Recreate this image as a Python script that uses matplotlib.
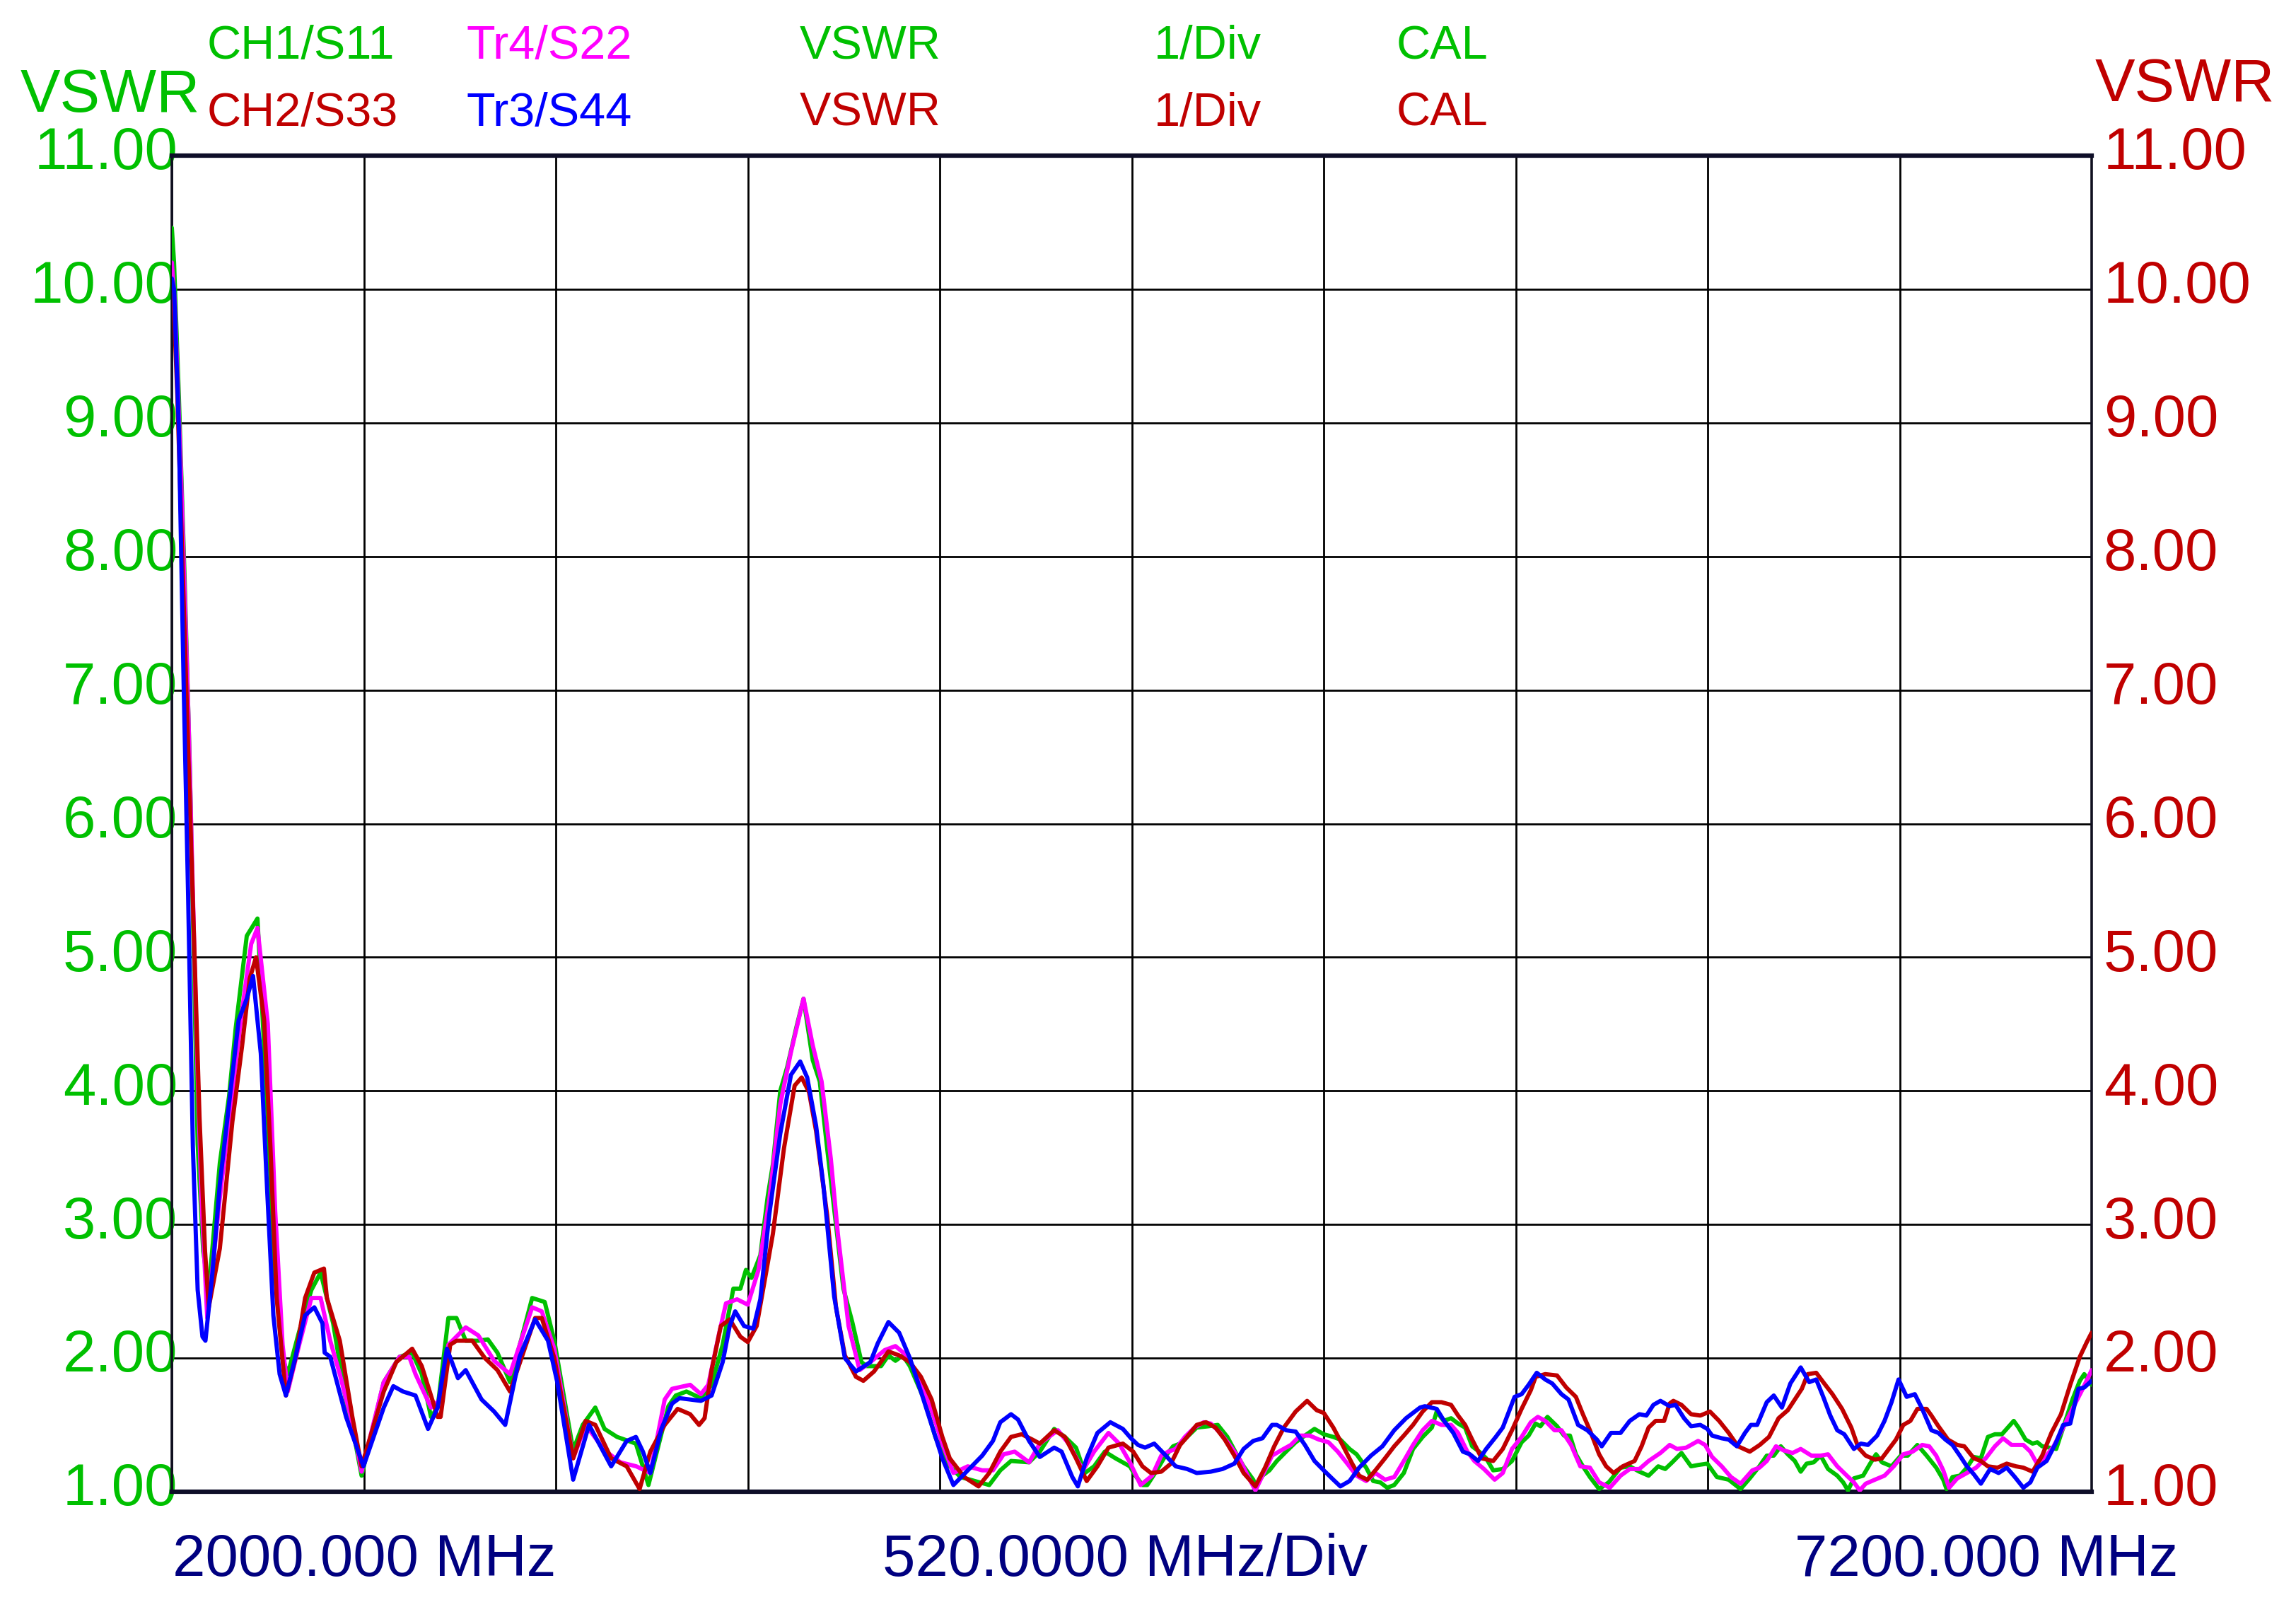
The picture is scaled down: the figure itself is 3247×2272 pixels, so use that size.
import numpy as np
import matplotlib
matplotlib.use("Agg")
import matplotlib.pyplot as plt
import matplotlib.transforms as mtransforms

plt.rcParams['font.family'] = ['Liberation Sans', 'DejaVu Sans']

# sweep settings of the analyser
f_start = 2000.0   # MHz
f_stop = 7200.0    # MHz
f_div = 520.0      # MHz/Div
vswr_ticks = [1, 2, 3, 4, 5, 6, 7, 8, 9, 10, 11]

# traces, (MHz, VSWR)
s11 = [(2000,10.46),(2006,10.2),(2019,9.2),(2035,7.8),(2049,6.4),(2070,3.6),(2085,2.8),(2100,2.51),(2130,3.46),(2155,3.96),(2173,4.47),(2203,5.16),(2232,5.29),(2258,3.9),(2279,2.64),(2300,2.0),(2314,1.88),(2345,2.2),(2378,2.51),(2403,2.64),(2437,2.26),(2471,1.69),(2497,1.37),(2514,1.12),(2574,1.82),(2617,2.01),(2651,2.04),(2677,1.88),(2702,1.56),(2720,1.63),(2749,2.3),(2771,2.3),(2796,2.13),(2830,2.13),(2856,2.14),(2882,2.04),(2916,1.82),(2976,2.45),(3010,2.42),(3036,2.13),(3087,1.31),(3113,1.5),(3147,1.63),(3172,1.47),(3206,1.41),(3257,1.36),(3291,1.05),(3345,1.64),(3365,1.72),(3394,1.75),(3433,1.7),(3462,1.8),(3492,2.1),(3521,2.52),(3540,2.52),(3555,2.66),(3570,2.6),(3594,2.77),(3614,3.21),(3628,3.45),(3648,4.0),(3667,4.18),(3692,4.48),(3711,4.69),(3736,4.23),(3755,4.07),(3775,3.57),(3804,2.88),(3819,2.52),(3843,2.27),(3868,1.97),(3882,1.94),(3921,1.94),(3941,2.02),(3960,1.98),(3980,2.02),(3999,1.94),(4038,1.69),(4068,1.41),(4097,1.22),(4136,1.11),(4175,1.08),(4214,1.05),(4244,1.16),(4273,1.23),(4322,1.22),(4351,1.3),(4390,1.47),(4419,1.41),(4449,1.33),(4473,1.14),(4498,1.19),(4527,1.3),(4556,1.25),(4595,1.19),(4610,1.12),(4629,1.05),(4642,1.05),(4668,1.16),(4687,1.25),(4712,1.34),(4731,1.36),(4750,1.41),(4776,1.48),(4808,1.49),(4833,1.5),(4859,1.41),(4884,1.28),(4903,1.19),(4929,1.09),(4938,1.04),(4954,1.12),(4973,1.16),(4993,1.23),(5018,1.3),(5044,1.37),(5069,1.42),(5095,1.47),(5120,1.43),(5146,1.41),(5165,1.39),(5190,1.32),(5209,1.28),(5235,1.18),(5254,1.08),(5273,1.07),(5292,1.03),(5311,1.05),(5337,1.14),(5362,1.32),(5388,1.41),(5413,1.48),(5426,1.6),(5445,1.53),(5465,1.55),(5484,1.51),(5503,1.48),(5522,1.34),(5541,1.3),(5560,1.25),(5579,1.16),(5605,1.17),(5630,1.23),(5656,1.37),(5675,1.42),(5694,1.51),(5707,1.49),(5726,1.56),(5752,1.49),(5771,1.42),(5787,1.42),(5803,1.28),(5822,1.19),(5841,1.11),(5866,1.02),(5892,1.07),(5924,1.18),(5949,1.19),(5975,1.15),(6000,1.12),(6026,1.19),(6045,1.17),(6064,1.22),(6089,1.29),(6115,1.19),(6134,1.2),(6159,1.21),(6185,1.11),(6217,1.09),(6249,1.02),(6274,1.1),(6300,1.19),(6320,1.27),(6339,1.27),(6358,1.34),(6377,1.28),(6396,1.23),(6412,1.15),(6428,1.21),(6447,1.22),(6466,1.27),(6486,1.17),(6511,1.12),(6527,1.07),(6540,1.01),(6556,1.1),(6581,1.12),(6600,1.21),(6616,1.28),(6632,1.22),(6658,1.19),(6683,1.27),(6702,1.27),(6728,1.35),(6753,1.27),(6779,1.18),(6798,1.09),(6807,1.02),(6823,1.11),(6843,1.12),(6862,1.18),(6881,1.26),(6900,1.25),(6919,1.41),(6938,1.43),(6957,1.43),(6973,1.48),(6989,1.53),(7002,1.48),(7021,1.39),(7040,1.36),(7053,1.37),(7066,1.34),(7085,1.33),(7104,1.32),(7123,1.48),(7148,1.69),(7168,1.83),(7180,1.88),(7200,1.8)]

s22 = [(2000,10.2),(2008,9.9),(2025,8.6),(2045,6.8),(2065,4.6),(2080,3.2),(2096,2.3),(2130,3.2),(2160,3.9),(2190,4.6),(2215,5.1),(2232,5.22),(2260,4.5),(2280,3.1),(2300,2.1),(2314,1.75),(2345,2.1),(2378,2.45),(2403,2.45),(2429,2.13),(2455,1.88),(2490,1.5),(2514,1.15),(2574,1.82),(2617,2.01),(2643,2.01),(2660,1.88),(2702,1.63),(2728,1.69),(2749,2.1),(2796,2.23),(2830,2.17),(2873,1.98),(2916,1.88),(2976,2.38),(3002,2.35),(3036,2.07),(3087,1.25),(3121,1.5),(3172,1.31),(3215,1.22),(3258,1.19),(3296,1.14),(3335,1.69),(3355,1.77),(3404,1.8),(3433,1.73),(3453,1.8),(3482,2.18),(3501,2.41),(3531,2.44),(3560,2.4),(3589,2.66),(3618,3.18),(3648,3.9),(3677,4.29),(3711,4.69),(3736,4.34),(3760,4.07),(3785,3.49),(3804,2.93),(3833,2.24),(3863,1.91),(3892,1.97),(3931,2.06),(3960,2.09),(3990,2.02),(4019,1.88),(4058,1.61),(4087,1.36),(4117,1.14),(4156,1.19),(4195,1.16),(4224,1.16),(4253,1.28),(4283,1.3),(4322,1.22),(4351,1.36),(4400,1.46),(4429,1.36),(4468,1.16),(4498,1.3),(4537,1.44),(4566,1.36),(4595,1.22),(4624,1.05),(4655,1.12),(4680,1.27),(4699,1.3),(4719,1.32),(4744,1.41),(4770,1.48),(4795,1.52),(4814,1.51),(4840,1.44),(4865,1.35),(4891,1.25),(4916,1.11),(4935,1.01),(4954,1.12),(4980,1.27),(5005,1.31),(5031,1.35),(5056,1.42),(5082,1.42),(5107,1.39),(5133,1.37),(5158,1.3),(5184,1.21),(5209,1.12),(5235,1.08),(5260,1.14),(5286,1.09),(5311,1.11),(5337,1.23),(5362,1.35),(5388,1.46),(5413,1.53),(5439,1.5),(5465,1.5),(5484,1.44),(5509,1.3),(5528,1.23),(5554,1.17),(5583,1.09),(5605,1.14),(5630,1.32),(5656,1.41),(5681,1.52),(5700,1.56),(5720,1.53),(5745,1.46),(5764,1.46),(5790,1.35),(5815,1.19),(5841,1.18),(5866,1.07),(5895,1.03),(5924,1.12),(5949,1.17),(5975,1.17),(6000,1.23),(6032,1.29),(6057,1.35),(6077,1.32),(6102,1.33),(6134,1.38),(6153,1.35),(6172,1.26),(6198,1.19),(6223,1.11),(6249,1.06),(6281,1.16),(6300,1.18),(6320,1.23),(6345,1.34),(6365,1.31),(6390,1.29),(6412,1.32),(6441,1.27),(6466,1.27),(6486,1.28),(6511,1.19),(6537,1.12),(6556,1.07),(6572,1.01),(6588,1.06),(6613,1.09),(6639,1.12),(6664,1.19),(6690,1.28),(6715,1.3),(6741,1.35),(6760,1.34),(6779,1.27),(6798,1.16),(6814,1.03),(6836,1.1),(6862,1.14),(6887,1.18),(6913,1.25),(6938,1.34),(6960,1.4),(6983,1.35),(7015,1.35),(7034,1.3),(7050,1.22),(7072,1.25),(7097,1.34),(7123,1.48),(7148,1.62),(7174,1.76),(7200,1.91)]

s33 = [(2000,10.0),(2005,9.9),(2015,9.2),(2035,7.4),(2055,5.6),(2075,3.8),(2090,2.8),(2100,2.38),(2130,2.82),(2164,3.77),(2190,4.33),(2211,4.84),(2228,5.0),(2250,4.53),(2267,3.58),(2284,2.45),(2309,1.72),(2335,2.0),(2361,2.45),(2386,2.64),(2412,2.67),(2420,2.45),(2455,2.13),(2489,1.56),(2514,1.19),(2574,1.75),(2608,1.97),(2651,2.07),(2677,1.94),(2720,1.56),(2728,1.56),(2754,2.1),(2771,2.13),(2814,2.13),(2848,2.0),(2882,1.91),(2916,1.75),(2984,2.3),(3002,2.3),(3036,2.0),(3087,1.25),(3121,1.53),(3147,1.5),(3190,1.25),(3232,1.19),(3267,1.02),(3296,1.3),(3335,1.5),(3370,1.62),(3404,1.58),(3428,1.5),(3443,1.55),(3462,1.91),(3487,2.24),(3511,2.29),(3540,2.16),(3560,2.12),(3584,2.24),(3609,2.63),(3628,2.93),(3658,3.57),(3687,4.04),(3706,4.1),(3726,3.99),(3745,3.7),(3775,3.07),(3799,2.38),(3823,2.02),(3853,1.86),(3873,1.83),(3902,1.9),(3941,2.05),(3970,2.02),(3999,1.97),(4029,1.86),(4058,1.69),(4087,1.41),(4107,1.25),(4146,1.11),(4185,1.04),(4214,1.14),(4244,1.3),(4273,1.41),(4302,1.43),(4331,1.39),(4351,1.36),(4390,1.46),(4419,1.41),(4449,1.25),(4478,1.08),(4507,1.19),(4537,1.33),(4576,1.36),(4604,1.3),(4629,1.19),(4652,1.14),(4680,1.15),(4706,1.21),(4731,1.35),(4750,1.41),(4776,1.5),(4801,1.52),(4827,1.48),(4852,1.39),(4878,1.27),(4903,1.14),(4935,1.04),(4961,1.18),(4986,1.34),(5012,1.48),(5044,1.6),(5075,1.68),(5101,1.61),(5120,1.59),(5146,1.48),(5171,1.35),(5197,1.21),(5216,1.12),(5238,1.09),(5260,1.16),(5286,1.25),(5311,1.34),(5337,1.42),(5362,1.5),(5388,1.6),(5413,1.67),(5439,1.67),(5465,1.65),(5484,1.57),(5503,1.5),(5522,1.39),(5548,1.25),(5579,1.23),(5605,1.32),(5630,1.46),(5656,1.62),(5681,1.76),(5694,1.86),(5720,1.88),(5752,1.87),(5777,1.78),(5803,1.71),(5822,1.58),(5841,1.46),(5866,1.28),(5885,1.19),(5905,1.14),(5930,1.19),(5962,1.23),(5981,1.34),(6000,1.48),(6019,1.53),(6042,1.53),(6057,1.66),(6067,1.68),(6089,1.65),(6115,1.58),(6140,1.57),(6166,1.6),(6191,1.53),(6217,1.44),(6242,1.34),(6274,1.3),(6301,1.35),(6326,1.41),(6352,1.55),(6377,1.61),(6396,1.69),(6415,1.77),(6431,1.88),(6454,1.89),(6473,1.82),(6498,1.73),(6524,1.62),(6549,1.48),(6568,1.33),(6588,1.27),(6613,1.24),(6632,1.25),(6651,1.32),(6670,1.39),(6690,1.5),(6709,1.53),(6728,1.62),(6753,1.62),(6766,1.57),(6785,1.49),(6811,1.39),(6836,1.35),(6855,1.34),(6881,1.25),(6900,1.23),(6919,1.19),(6945,1.18),(6970,1.21),(6995,1.19),(7015,1.18),(7040,1.15),(7066,1.27),(7091,1.44),(7117,1.58),(7142,1.8),(7168,2.01),(7187,2.12),(7200,2.19)]

s44 = [(2000,10.08),(2006,10.0),(2019,8.95),(2032,7.05),(2044,5.48),(2057,3.58),(2070,2.51),(2083,2.16),(2091,2.13),(2110,2.64),(2130,3.3),(2147,3.71),(2181,4.53),(2203,4.69),(2220,4.86),(2241,4.28),(2258,3.27),(2275,2.32),(2292,1.88),(2309,1.72),(2335,2.01),(2361,2.32),(2386,2.38),(2408,2.26),(2414,2.04),(2429,2.01),(2472,1.56),(2519,1.19),(2574,1.63),(2600,1.79),(2626,1.75),(2660,1.72),(2694,1.47),(2720,1.63),(2745,2.07),(2775,1.85),(2796,1.91),(2839,1.69),(2873,1.6),(2903,1.5),(2942,2.01),(2984,2.29),(3019,2.13),(3044,1.82),(3087,1.09),(3130,1.5),(3190,1.19),(3232,1.38),(3257,1.41),(3276,1.3),(3296,1.14),(3326,1.47),(3355,1.66),(3375,1.7),(3404,1.69),(3433,1.68),(3462,1.72),(3492,1.97),(3511,2.24),(3526,2.35),(3550,2.24),(3575,2.22),(3594,2.44),(3618,3.07),(3648,3.68),(3677,4.12),(3702,4.22),(3721,4.1),(3745,3.74),(3765,3.29),(3794,2.46),(3823,2.0),(3853,1.9),(3892,1.97),(3912,2.11),(3941,2.27),(3970,2.19),(3999,2.0),(4029,1.75),(4058,1.5),(4087,1.25),(4117,1.05),(4156,1.16),(4195,1.27),(4224,1.38),(4244,1.52),(4273,1.58),(4292,1.54),(4322,1.38),(4351,1.26),(4390,1.33),(4410,1.3),(4439,1.11),(4454,1.04),(4478,1.25),(4507,1.44),(4542,1.52),(4576,1.47),(4598,1.4),(4617,1.35),(4636,1.33),(4661,1.36),(4689,1.28),(4719,1.19),(4750,1.17),(4776,1.14),(4814,1.15),(4846,1.17),(4878,1.21),(4903,1.32),(4929,1.38),(4954,1.4),(4980,1.5),(4993,1.5),(5018,1.46),(5044,1.45),(5069,1.35),(5095,1.23),(5120,1.16),(5146,1.09),(5165,1.04),(5190,1.08),(5216,1.18),(5248,1.27),(5279,1.34),(5311,1.46),(5343,1.55),(5381,1.63),(5394,1.64),(5426,1.62),(5446,1.53),(5471,1.44),(5497,1.3),(5516,1.28),(5538,1.23),(5560,1.32),(5586,1.41),(5605,1.48),(5637,1.71),(5656,1.73),(5675,1.8),(5697,1.89),(5720,1.84),(5739,1.81),(5764,1.73),(5783,1.69),(5809,1.5),(5834,1.46),(5860,1.39),(5873,1.34),(5898,1.44),(5924,1.44),(5949,1.53),(5975,1.58),(5994,1.57),(6013,1.65),(6032,1.68),(6057,1.64),(6073,1.65),(6096,1.55),(6115,1.49),(6140,1.5),(6159,1.47),(6172,1.42),(6198,1.4),(6217,1.39),(6239,1.34),(6261,1.44),(6277,1.5),(6294,1.5),(6320,1.67),(6339,1.72),(6361,1.63),(6384,1.81),(6412,1.93),(6435,1.82),(6454,1.84),(6473,1.71),(6492,1.57),(6511,1.46),(6530,1.43),(6556,1.32),(6575,1.36),(6594,1.35),(6619,1.42),(6639,1.53),(6658,1.67),(6677,1.84),(6699,1.71),(6721,1.73),(6741,1.62),(6766,1.46),(6785,1.44),(6804,1.39),(6823,1.35),(6843,1.27),(6862,1.19),(6881,1.13),(6900,1.06),(6925,1.17),(6948,1.14),(6970,1.18),(6992,1.11),(7015,1.03),(7034,1.07),(7053,1.18),(7078,1.23),(7104,1.37),(7123,1.5),(7142,1.51),(7164,1.77),(7180,1.78),(7200,1.83)]

GREEN = '#00C000'
RED = '#C00000'
MAGENTA = '#FF00FF'
BLUE = '#0000FF'
NAVY = '#000080'

W, H = 3248, 2272
fig = plt.figure(figsize=(W / 100, H / 100), dpi=100)
fig.patch.set_facecolor('white')

# plot frame in pixels: left 243, right 2958, top 220, bottom 2109
ax = fig.add_axes([243 / W, 1 - 2109 / H, (2958 - 243) / W, (2109 - 220) / H])
ax.set_xlim(f_start, f_stop)
ax.set_ylim(vswr_ticks[0], vswr_ticks[-1])

# draw order: green, magenta, red, blue on top
for trace, col in [(s11, GREEN), (s22, MAGENTA), (s33, RED), (s44, BLUE)]:
    f, v = zip(*trace)
    ax.plot(f, v, color=col, lw=4.3, solid_joinstyle='round', solid_capstyle='round', zorder=3)

ax.set_xticks(np.arange(f_start, f_stop + 1, f_div))
ax.set_yticks(vswr_ticks)
ax.grid(True, color='black', lw=2.0, zorder=1)
ax.tick_params(axis='x', length=0, labelbottom=False)
ax.set_yticklabels([f"{t:.2f}" for t in vswr_ticks])
ax.tick_params(axis='y', length=0, labelsize=60, labelcolor=GREEN, pad=-6)

for side in ['left', 'right']:
    ax.spines[side].set_linewidth(2.6)
    ax.spines[side].set_color('#101020')
for side in ['top', 'bottom']:
    ax.spines[side].set_linewidth(4.5)
    ax.spines[side].set_color('#0e0e28')

ax2 = ax.twinx()
ax2.set_ylim(vswr_ticks[0], vswr_ticks[-1])
ax2.set_yticks(vswr_ticks)
ax2.set_yticklabels([f"{t:.2f}" for t in vswr_ticks])
ax2.tick_params(axis='y', length=0, labelsize=60, labelcolor=RED, pad=12)
for s in ax2.spines.values():
    s.set_visible(False)

# labels on the screen sit slightly above the grid line
shift = mtransforms.ScaledTranslation(0, 8 / 72, fig.dpi_scale_trans)
for lab in ax.get_yticklabels() + ax2.get_yticklabels():
    lab.set_transform(lab.get_transform() + shift)


def put(x, y, s, col, size, ha='left'):
    fig.text(x / W, 1 - y / H, s, color=col, fontsize=size, ha=ha, va='baseline')


# header block
put(293, 83, 'CH1/S11', GREEN, 48)
put(660, 83, 'Tr4/S22', MAGENTA, 48)
put(1131, 83, 'VSWR', GREEN, 48)
put(1632, 83, '1/Div', GREEN, 48)
put(1975, 83, 'CAL', GREEN, 48)
put(293, 178, 'CH2/S33', RED, 48)
put(660, 178, 'Tr3/S44', BLUE, 48)
put(1131, 178, 'VSWR', RED, 48)
put(1632, 178, '1/Div', RED, 48)
put(1975, 178, 'CAL', RED, 48)

put(29, 158, 'VSWR', GREEN, 61)
put(2963, 143, 'VSWR', RED, 61)

# frequency footer
put(244, 2228, f'{f_start:.3f} MHz', NAVY, 60)
put(1591, 2228, f'{f_div:.4f} MHz/Div', NAVY, 60, ha='center')
put(3080, 2228, f'{f_stop:.3f} MHz', NAVY, 60, ha='right')

fig.savefig('out.png', dpi=100, facecolor='white')
